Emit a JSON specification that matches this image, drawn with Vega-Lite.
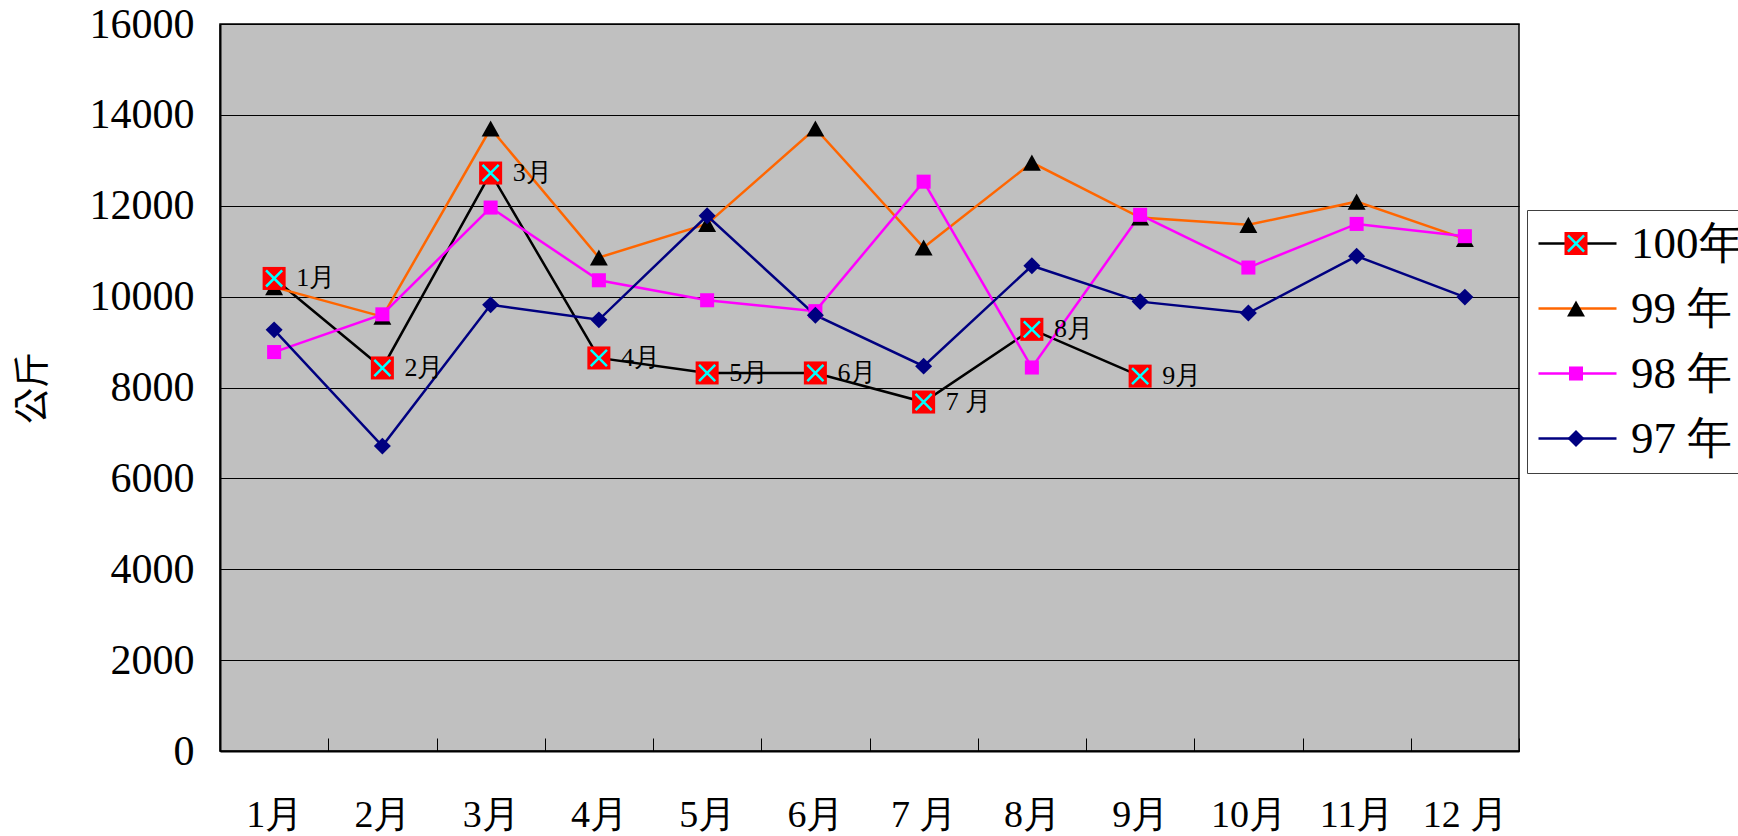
{
  "$schema": "https://vega.github.io/schema/vega-lite/v6.json",
  "width": 1299,
  "height": 727,
  "autosize": {"type": "none"},
  "padding": {"left": 220, "top": 24, "right": 219, "bottom": 85},
  "background": "#ffffff",
  "config": {"view": {"fill": "#C0C0C0", "stroke": "#000000", "strokeWidth": 1.5}, "font": "Liberation Serif"},
  "data": {"values": [
    {"month": "1月", "year": "100年", "value": 10400},
    {"month": "2月", "year": "100年", "value": 8430},
    {"month": "3月", "year": "100年", "value": 12720},
    {"month": "4月", "year": "100年", "value": 8650},
    {"month": "5月", "year": "100年", "value": 8320},
    {"month": "6月", "year": "100年", "value": 8320},
    {"month": "7 月", "year": "100年", "value": 7680},
    {"month": "8月", "year": "100年", "value": 9280},
    {"month": "9月", "year": "100年", "value": 8250},
    {"month": "1月", "year": "99 年", "value": 10210},
    {"month": "2月", "year": "99 年", "value": 9560},
    {"month": "3月", "year": "99 年", "value": 13700},
    {"month": "4月", "year": "99 年", "value": 10860},
    {"month": "5月", "year": "99 年", "value": 11600},
    {"month": "6月", "year": "99 年", "value": 13700},
    {"month": "7 月", "year": "99 年", "value": 11080},
    {"month": "8月", "year": "99 年", "value": 12950},
    {"month": "9月", "year": "99 年", "value": 11740},
    {"month": "10月", "year": "99 年", "value": 11580},
    {"month": "11月", "year": "99 年", "value": 12090},
    {"month": "12 月", "year": "99 年", "value": 11270},
    {"month": "1月", "year": "98 年", "value": 8780},
    {"month": "2月", "year": "98 年", "value": 9610},
    {"month": "3月", "year": "98 年", "value": 11960},
    {"month": "4月", "year": "98 年", "value": 10360},
    {"month": "5月", "year": "98 年", "value": 9920},
    {"month": "6月", "year": "98 年", "value": 9680},
    {"month": "7 月", "year": "98 年", "value": 12530},
    {"month": "8月", "year": "98 年", "value": 8440},
    {"month": "9月", "year": "98 年", "value": 11800},
    {"month": "10月", "year": "98 年", "value": 10640},
    {"month": "11月", "year": "98 年", "value": 11600},
    {"month": "12 月", "year": "98 年", "value": 11330},
    {"month": "1月", "year": "97 年", "value": 9270},
    {"month": "2月", "year": "97 年", "value": 6710},
    {"month": "3月", "year": "97 年", "value": 9820},
    {"month": "4月", "year": "97 年", "value": 9490},
    {"month": "5月", "year": "97 年", "value": 11780},
    {"month": "6月", "year": "97 年", "value": 9590},
    {"month": "7 月", "year": "97 年", "value": 8470},
    {"month": "8月", "year": "97 年", "value": 10680},
    {"month": "9月", "year": "97 年", "value": 9890},
    {"month": "10月", "year": "97 年", "value": 9640},
    {"month": "11月", "year": "97 年", "value": 10890},
    {"month": "12 月", "year": "97 年", "value": 9990}
  ]},
  "encoding": {
    "x": {
      "field": "month", "type": "ordinal",
      "sort": ["1月", "2月", "3月", "4月", "5月", "6月", "7 月", "8月", "9月", "10月", "11月", "12 月"],
      "scale": {"type": "band", "paddingInner": 0, "paddingOuter": 0},
      "axis": {
        "title": null, "labelAngle": 0, "tickBand": "extent", "tickSize": -13, "tickColor": "#000000", "tickWidth": 1,
        "domainColor": "#000000", "domainWidth": 2, "grid": false,
        "labelFont": "Liberation Serif", "labelFontSize": 38, "labelColor": "#000000", "labelPadding": 58
      }
    },
    "y": {
      "field": "value", "type": "quantitative",
      "scale": {"domain": [0, 16000], "nice": false},
      "axis": {
        "values": [0, 2000, 4000, 6000, 8000, 10000, 12000, 14000, 16000], "format": "d",
        "title": "公斤", "grid": true, "gridColor": "#000000", "gridWidth": 1, "ticks": false,
        "domainColor": "#000000", "domainWidth": 2,
        "labelFont": "Liberation Serif", "labelFontSize": 42, "labelColor": "#000000", "labelPadding": 26,
        "titleFont": "Noto Sans CJK TC", "titleFontSize": 36, "titleFontWeight": "normal", "titleColor": "#000000", "titlePadding": 37
      }
    }
  },
  "resolve": {"scale": {"shape": "independent", "fill": "independent"}},
  "layer": [
    {
      "mark": {"type": "line", "strokeWidth": 2.5},
      "encoding": {
        "color": {
          "field": "year", "type": "nominal",
          "scale": {"domain": ["100年", "99 年", "98 年", "97 年"], "range": ["#000000", "#FF6600", "#FF00FF", "#000080"]},
          "legend": {
            "orient": "none", "legendX": 1307, "legendY": 186, "title": null,
            "padding": 11, "rowPadding": 19, "strokeColor": "#404040",
            "symbolType": "M-6.5,0H6.5", "symbolSize": 144, "symbolStrokeWidth": 2.5, "symbolOffset": 17,
            "labelFont": "Liberation Serif", "labelFontSize": 45, "labelColor": "#000000", "labelOffset": 31, "labelLimit": 0
          }
        }
      }
    },
    {
      "mark": {"type": "point", "filled": true, "opacity": 1, "strokeWidth": 0, "size": 530},
      "encoding": {
        "shape": {
          "field": "year", "type": "nominal",
          "scale": {"domain": ["100年", "99 年", "98 年", "97 年"], "range": ["M-1,-1H1V1H-1Z", "M0,-0.7L0.78,0.7L-0.78,0.7Z", "M-0.61,-0.61H0.61V0.61H-0.61Z", "M0,-0.73L0.74,0L0,0.73L-0.74,0Z"]},
          "legend": {
            "orient": "none", "legendX": 1307, "legendY": 186, "title": null,
            "padding": 11, "rowPadding": 19, "symbolSize": 530, "symbolStrokeWidth": 0, "symbolOffset": 15.5,
            "labelFont": "Liberation Serif", "labelFontSize": 45, "labelColor": "rgba(0,0,0,0)", "labelOffset": 31, "labelLimit": 0
          }
        },
        "fill": {
          "field": "year", "type": "nominal",
          "scale": {"domain": ["100年", "99 年", "98 年", "97 年"], "range": ["#FF0000", "#000000", "#FF00FF", "#000080"]},
          "legend": {
            "orient": "none", "legendX": 1307, "legendY": 186, "title": null,
            "padding": 11, "rowPadding": 19, "symbolSize": 530, "symbolStrokeWidth": 0, "symbolOffset": 15.5,
            "labelFont": "Liberation Serif", "labelFontSize": 45, "labelColor": "rgba(0,0,0,0)", "labelOffset": 31, "labelLimit": 0
          }
        },
        "order": {"field": "year", "sort": "descending"}
      }
    },
    {
      "transform": [{"filter": "datum.year == '100年'"}],
      "mark": {"type": "point", "filled": false, "color": "#00FFFF", "opacity": 1, "strokeWidth": 2.5, "size": 530},
      "encoding": {
        "shape": {
          "field": "year", "type": "nominal",
          "scale": {"domain": ["100年"], "range": ["M-0.7,-0.7L0.7,0.7M-0.7,0.7L0.7,-0.7"]},
          "legend": {
            "orient": "none", "legendX": 1307, "legendY": 186, "title": null,
            "padding": 11, "rowPadding": 19, "symbolSize": 530, "symbolStrokeWidth": 2.5, "symbolStrokeColor": "#00FFFF", "symbolFillColor": "transparent", "symbolOffset": 15.5,
            "labelFont": "Liberation Serif", "labelFontSize": 45, "labelColor": "rgba(0,0,0,0)", "labelOffset": 31, "labelLimit": 0
          }
        }
      }
    },
    {
      "transform": [{"filter": "datum.year == '100年'"}],
      "mark": {"type": "text", "align": "left", "baseline": "middle", "dx": 22, "font": "Liberation Serif", "fontSize": 26, "color": "#000000"},
      "encoding": {"text": {"field": "month"}}
    }
  ]
}
